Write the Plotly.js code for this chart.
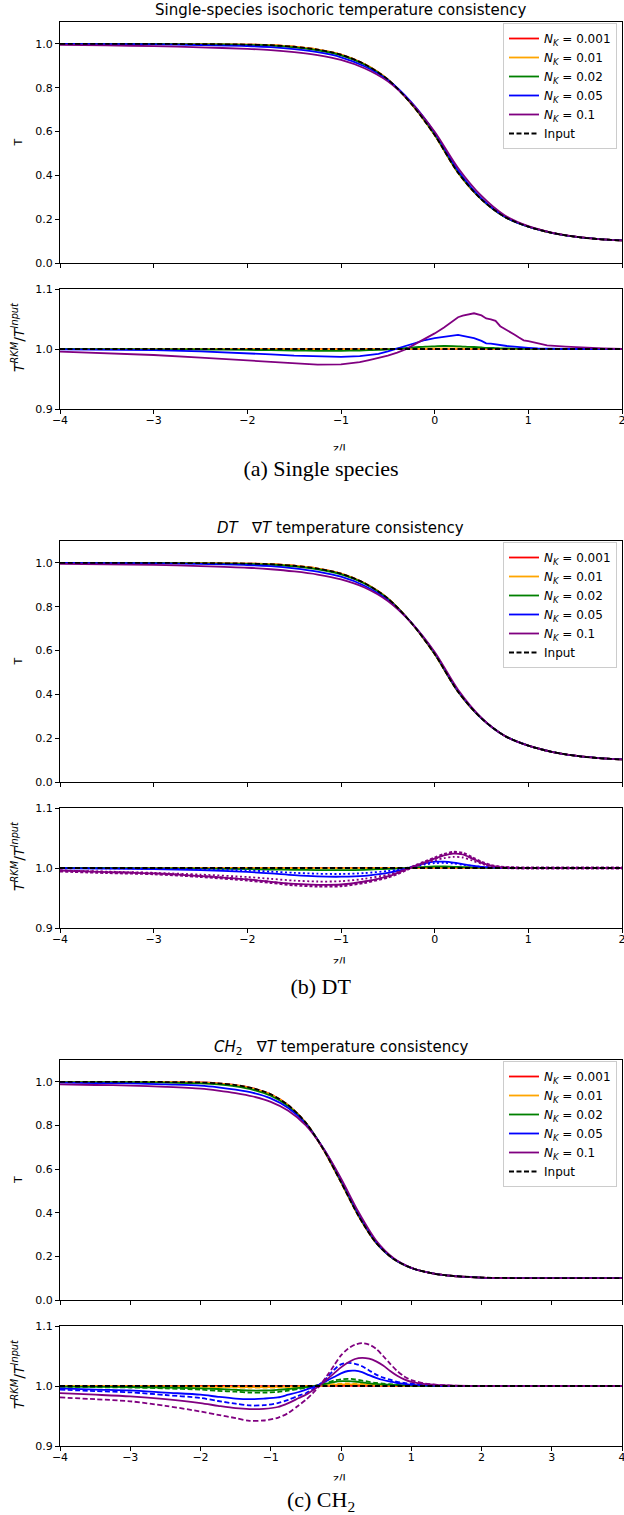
<!DOCTYPE html>
<html><head><meta charset="utf-8">
<script src="https://cdn.plot.ly/plotly-3.0.1.min.js"></script>
<style>html,body{margin:0;padding:0;background:#fff;}#chart{width:624px;height:1515px;}</style>
</head><body><div id="chart"></div>
<script>
// ---------- Panel (a): single species ----------
const xTopA = [-4,-3.5,-3,-2.5,-2,-1.75,-1.5,-1.25,-1,-0.75,-0.5,-0.25,0,0.25,0.5,0.75,1,1.25,1.5,1.75,2];
const inputTopA = [1.0,1.0,1.0,0.999,0.997,0.994,0.987,0.974,0.951,0.908,0.838,0.727,0.584,0.412,0.290,0.210,0.166,0.138,0.120,0.109,0.103];
const tA_001 = [1.0,1.0,1.0,0.999,0.997,0.994,0.987,0.974,0.951,0.908,0.838,0.727,0.584,0.412,0.290,0.210,0.166,0.138,0.120,0.109,0.103];
const tA_01  = [1.0,1.0,1.0,0.999,0.997,0.994,0.987,0.974,0.951,0.908,0.838,0.727,0.584,0.412,0.290,0.210,0.166,0.138,0.120,0.109,0.103];
const tA_02  = [1.0,1.0,0.9995,0.998,0.996,0.992,0.984,0.971,0.948,0.906,0.837,0.728,0.587,0.414,0.291,0.210,0.166,0.138,0.120,0.109,0.103];
const tA_05  = [0.9995,0.999,0.998,0.995,0.9905,0.985,0.976,0.962,0.939,0.898,0.835,0.734,0.595,0.422,0.294,0.211,0.166,0.138,0.120,0.109,0.103];
const tA_1   = [0.9955,0.993,0.990,0.9845,0.9775,0.972,0.963,0.949,0.927,0.889,0.829,0.731,0.599,0.434,0.306,0.217,0.168,0.139,0.1205,0.109,0.103];

const xRatA = [-4,-3.5,-3,-2.5,-2,-1.75,-1.5,-1.25,-1,-0.8,-0.7,-0.6,-0.5,-0.4,-0.3,-0.2,-0.1,0,0.1,0.2,0.25,0.3,0.35,0.42,0.5,0.55,0.6,0.65,0.7,0.77,0.85,0.9,0.95,1.0,1.1,1.2,1.4,1.6,1.8,2];
const rA_1  = [0.9955,0.993,0.990,0.9855,0.9805,0.978,0.9755,0.974,0.9745,0.978,0.9815,0.985,0.989,0.994,1.0,1.009,1.017,1.026,1.036,1.047,1.053,1.0555,1.057,1.0595,1.056,1.051,1.0495,1.047,1.038,1.032,1.024,1.019,1.0145,1.013,1.009,1.006,1.004,1.002,1.001,1.0];
const rA_05 = [0.9995,0.999,0.998,0.996,0.9935,0.991,0.989,0.9875,0.987,0.988,0.9895,0.992,0.996,1.001,1.006,1.011,1.015,1.018,1.0205,1.023,1.0235,1.022,1.020,1.018,1.0135,1.0095,1.009,1.0075,1.0067,1.005,1.004,1.003,1.0025,1.002,1.001,1.0005,1.0,1.0,1.0,1.0];
const rA_02 = [1.0,0.9998,0.9995,0.9992,0.9985,0.998,0.9975,0.997,0.997,0.9975,0.998,0.9985,0.9995,1.0005,1.002,1.003,1.004,1.0045,1.005,1.0048,1.0045,1.004,1.0037,1.0033,1.0025,1.002,1.0018,1.0015,1.0012,1.001,1.0007,1.0005,1.0004,1.0003,1.0002,1.0001,1.0,1.0,1.0,1.0];
const xRatA_c = [-4,-2,-1.25,-0.5,0,0.5,1,2];
const rA_01  = [1.0,0.9997,0.9993,0.9998,1.001,1.0007,1.0001,1.0];
const rA_001 = [1.0,1.0,0.9999,1.0,1.0001,1.0001,1.0,1.0];
const xInputRatA = [-4,2];
const inputRatA = [1.0,1.0];

// ---------- Panel (b): DT ----------
const xTopB = [-4,-3.5,-3,-2.5,-2,-1.75,-1.5,-1.25,-1,-0.75,-0.5,-0.25,0,0.25,0.5,0.75,1,1.25,1.5,1.75,2];
const inputTopB = [1.0,1.0,1.0,0.999,0.997,0.994,0.987,0.974,0.951,0.908,0.838,0.727,0.584,0.412,0.290,0.210,0.166,0.138,0.120,0.109,0.103];
const tB_001 = [1.0,1.0,1.0,0.999,0.997,0.994,0.987,0.974,0.951,0.908,0.838,0.727,0.584,0.412,0.290,0.210,0.166,0.138,0.120,0.109,0.103];
const tB_01  = [1.0,1.0,1.0,0.999,0.997,0.994,0.987,0.974,0.951,0.908,0.838,0.727,0.584,0.412,0.290,0.210,0.166,0.138,0.120,0.109,0.103];
const tB_02  = [1.0,1.0,0.9995,0.998,0.995,0.9915,0.984,0.971,0.948,0.906,0.837,0.727,0.585,0.413,0.290,0.210,0.166,0.138,0.120,0.109,0.103];
const tB_05  = [0.9995,0.999,0.998,0.9955,0.9905,0.985,0.975,0.960,0.937,0.896,0.831,0.728,0.590,0.415,0.291,0.210,0.166,0.138,0.120,0.109,0.103];
const tB_1   = [0.9955,0.993,0.991,0.9855,0.978,0.971,0.961,0.947,0.925,0.888,0.826,0.727,0.593,0.421,0.293,0.210,0.166,0.138,0.120,0.109,0.103];

const xRatB = [-4,-3.5,-3,-2.5,-2,-1.75,-1.5,-1.25,-1,-0.75,-0.5,-0.4,-0.3,-0.2,-0.1,0,0.1,0.2,0.3,0.4,0.5,0.6,0.7,0.8,1,1.5,2];
const rB_1     = [0.9955,0.993,0.991,0.9865,0.981,0.977,0.9735,0.972,0.9725,0.9775,0.986,0.9915,0.998,1.004,1.010,1.0155,1.021,1.024,1.0225,1.016,1.009,1.004,1.0015,1.0005,1.0,1.0,1.0];
const rB_1dash = [0.995,0.9925,0.9905,0.986,0.980,0.976,0.972,0.970,0.9705,0.976,0.985,0.9905,0.9975,1.004,1.0105,1.0165,1.0225,1.026,1.0245,1.017,1.0095,1.004,1.0015,1.0005,1.0,1.0,1.0];
const rB_1dot  = [0.996,0.994,0.992,0.989,0.985,0.982,0.979,0.9775,0.978,0.982,0.989,0.993,0.998,1.003,1.008,1.0125,1.0165,1.0185,1.0175,1.0125,1.007,1.003,1.001,1.0003,1.0,1.0,1.0];
const rB_05    = [0.9995,0.999,0.998,0.9965,0.9935,0.991,0.988,0.986,0.9855,0.987,0.992,0.995,0.999,1.004,1.008,1.0105,1.0105,1.009,1.0065,1.004,1.002,1.001,1.0003,1.0,1.0,1.0,1.0];
const rB_05dot = [0.9998,0.9995,0.999,0.998,0.996,0.994,0.992,0.9905,0.990,0.9915,0.995,0.997,1.0,1.003,1.006,1.008,1.0085,1.0075,1.0055,1.0035,1.002,1.001,1.0003,1.0,1.0,1.0,1.0];
const rB_02    = [1.0,1.0,0.9995,0.999,0.998,0.9975,0.997,0.9965,0.9965,0.997,0.9985,0.999,1.0,1.001,1.002,1.0025,1.0025,1.002,1.0015,1.001,1.0005,1.0002,1.0,1.0,1.0,1.0,1.0];
const xRatB_c = [-4,-2,-1.25,-0.5,0,0.5,1,2];
const rB_01  = [1.0,0.9997,0.9994,0.9998,1.0008,1.0005,1.0001,1.0];
const rB_001 = [1.0,1.0,0.9999,1.0,1.0001,1.0,1.0,1.0];
const xInputRatB = [-4,2];
const inputRatB = [1.0,1.0];

// ---------- Panel (c): CH2 ----------
const xTopC = [-4,-3.5,-3,-2.5,-2,-1.75,-1.5,-1.25,-1,-0.75,-0.5,-0.25,0,0.25,0.5,0.75,1,1.25,1.5,2,2.5,3,3.5,4];
const inputTopC = [1.0,1.0,1.0,0.999,0.997,0.993,0.985,0.970,0.943,0.893,0.812,0.690,0.540,0.385,0.262,0.188,0.147,0.125,0.113,0.103,0.1005,0.1,0.1,0.1];
const tC_001 = [1.0,1.0,1.0,0.999,0.997,0.993,0.985,0.970,0.943,0.893,0.812,0.690,0.540,0.385,0.262,0.188,0.147,0.125,0.113,0.103,0.1005,0.1,0.1,0.1];
const tC_01  = [1.0,1.0,1.0,0.9985,0.996,0.992,0.9835,0.968,0.941,0.892,0.812,0.690,0.541,0.386,0.262,0.188,0.147,0.125,0.113,0.103,0.1005,0.1,0.1,0.1];
const tC_02  = [0.9985,0.9983,0.998,0.9965,0.993,0.988,0.979,0.963,0.936,0.888,0.810,0.692,0.544,0.388,0.263,0.188,0.147,0.125,0.113,0.103,0.1005,0.1,0.1,0.1];
const tC_05  = [0.996,0.994,0.993,0.988,0.9826,0.975,0.964,0.949,0.924,0.880,0.807,0.694,0.551,0.394,0.2655,0.189,0.1473,0.125,0.113,0.103,0.1005,0.1,0.1,0.1];
const tC_1   = [0.988,0.9855,0.983,0.977,0.9686,0.960,0.9486,0.9327,0.908,0.8675,0.800,0.694,0.557,0.403,0.273,0.192,0.148,0.125,0.113,0.103,0.1005,0.1,0.1,0.1];

const xRatC = [-4,-3.5,-3,-2.5,-2,-1.75,-1.5,-1.3,-1.1,-0.9,-0.75,-0.6,-0.5,-0.4,-0.3,-0.2,-0.1,0,0.1,0.2,0.3,0.4,0.5,0.6,0.7,0.8,0.9,1.0,1.2,1.5,2,3,4];
const rC_1dash  = [0.981,0.978,0.9745,0.967,0.9575,0.952,0.9465,0.942,0.9425,0.947,0.955,0.968,0.977,0.988,1.001,1.017,1.034,1.051,1.062,1.069,1.0715,1.069,1.062,1.05,1.037,1.025,1.016,1.010,1.004,1.001,1.0,1.0,1.0];
const rC_1      = [0.988,0.9855,0.9827,0.978,0.9715,0.967,0.963,0.9615,0.962,0.965,0.9715,0.980,0.9855,0.993,1.001,1.011,1.021,1.031,1.039,1.045,1.047,1.0455,1.041,1.034,1.025,1.017,1.011,1.007,1.003,1.001,1.0,1.0,1.0];
const rC_05dash = [0.994,0.9915,0.9894,0.985,0.980,0.975,0.9705,0.9676,0.968,0.9715,0.977,0.984,0.988,0.995,1.003,1.014,1.027,1.036,1.0385,1.037,1.033,1.026,1.019,1.014,1.0105,1.007,1.005,1.004,1.002,1.0005,1.0,1.0,1.0];
const rC_05     = [0.996,0.994,0.9927,0.989,0.9855,0.982,0.979,0.978,0.979,0.981,0.9855,0.990,0.994,0.998,1.003,1.009,1.015,1.021,1.025,1.0255,1.023,1.018,1.0135,1.010,1.0075,1.005,1.0035,1.002,1.001,1.0,1.0,1.0,1.0];
const rC_02dash = [0.9985,0.998,0.9975,0.996,0.994,0.992,0.9905,0.989,0.989,0.990,0.9925,0.995,0.997,0.999,1.002,1.005,1.009,1.011,1.012,1.011,1.009,1.007,1.005,1.004,1.003,1.002,1.0015,1.001,1.0005,1.0,1.0,1.0,1.0];
const rC_02     = [0.999,0.9987,0.9983,0.9975,0.996,0.995,0.9935,0.9925,0.9925,0.9935,0.995,0.997,0.998,0.9995,1.002,1.004,1.0065,1.008,1.008,1.0075,1.006,1.0045,1.0035,1.0025,1.002,1.0015,1.001,1.0007,1.0003,1.0,1.0,1.0,1.0];
const rC_01dash = [1.0,0.9998,0.9995,0.999,0.9985,0.998,0.9975,0.9972,0.9972,0.9975,0.998,0.9988,0.9993,1.0,1.001,1.002,1.003,1.004,1.0042,1.004,1.0035,1.003,1.0022,1.0015,1.001,1.0007,1.0005,1.0003,1.0,1.0,1.0,1.0,1.0];
const rC_01     = [1.0,0.9999,0.9997,0.9994,0.999,0.9987,0.9984,0.9982,0.9982,0.9984,0.9987,0.9992,0.9996,1.0,1.0007,1.0014,1.002,1.0026,1.0028,1.0027,1.0024,1.002,1.0015,1.001,1.0007,1.0005,1.0003,1.0002,1.0,1.0,1.0,1.0,1.0];
const xRatC_c = [-4,-2,-1.25,-0.5,0,0.5,1,2,4];
const rC_001  = [1.0,1.0,0.9999,1.0,1.0002,1.0001,1.0,1.0,1.0];
const xInputRatC = [-4,4];
const inputRatC = [1.0,1.0];

// ---------- labels ----------
const seriesNames = ['<i>N</i><sub><i>K</i></sub> = 0.001','<i>N</i><sub><i>K</i></sub> = 0.01','<i>N</i><sub><i>K</i></sub> = 0.02','<i>N</i><sub><i>K</i></sub> = 0.05','<i>N</i><sub><i>K</i></sub> = 0.1','Input'];
const seriesColors = ['#ff0000','#ffa500','#008000','#0000ff','#800080','#000000'];
const panelTitles = ['Single-species isochoric temperature consistency',
  '<i>DT</i>\u00a0\u00a0\u00a0\u2207<i>T</i> temperature consistency',
  '<i>CH</i><sub>2</sub>\u00a0\u00a0\u00a0\u2207<i>T</i> temperature consistency'];
const captions = ['(a) Single species','(b) DT','(c) CH<sub>2</sub>'];
const xTicksAB = [-4,-3,-2,-1,0,1,2];
const xTicksC = [-4,-3,-2,-1,0,1,2,3,4];

// ---------- build ----------
const H = 1515, W = 624;
const py = p => 1 - p / H;
const traces = [];
function ln(x, y, ci, xa, ya, extra) {
  const t = {type:'scatter', mode:'lines', x:x, y:y, xaxis:xa, yaxis:ya,
    line:{color:seriesColors[ci], width:1.8, shape:'spline', smoothing:0.8},
    hoverinfo:'skip', showlegend:false};
  if (extra) {
    if (extra.line) { Object.assign(t.line, extra.line); }
    for (const k in extra) { if (k !== 'line') t[k] = extra[k]; }
  }
  return t;
}
const DASH = '5px,2.5px';

function topTraces(x, arrs, input, xa, ya, leg) {
  arrs.forEach((a, i) => traces.push(ln(x, a, i, xa, ya, {name:seriesNames[i], showlegend:true, legend:leg})));
  traces.push(ln(x, input, 5, xa, ya, {name:seriesNames[5], showlegend:true, legend:leg, line:{dash:DASH}}));
}
// panel a
topTraces(xTopA, [tA_001,tA_01,tA_02,tA_05,tA_1], inputTopA, 'x', 'y', 'legend');
traces.push(ln(xRatA_c, rA_001, 0, 'x2', 'y2'));
traces.push(ln(xRatA_c, rA_01, 1, 'x2', 'y2'));
traces.push(ln(xRatA, rA_02, 2, 'x2', 'y2'));
traces.push(ln(xRatA, rA_05, 3, 'x2', 'y2', {line:{shape:'linear'}}));
traces.push(ln(xRatA, rA_1, 4, 'x2', 'y2', {line:{shape:'linear'}}));
traces.push(ln(xInputRatA, inputRatA, 5, 'x2', 'y2', {line:{dash:DASH, shape:'linear'}}));
// panel b
topTraces(xTopB, [tB_001,tB_01,tB_02,tB_05,tB_1], inputTopB, 'x3', 'y3', 'legend2');
traces.push(ln(xRatB_c, rB_001, 0, 'x4', 'y4'));
traces.push(ln(xRatB_c, rB_01, 1, 'x4', 'y4'));
traces.push(ln(xRatB, rB_02, 2, 'x4', 'y4'));
traces.push(ln(xRatB, rB_05, 3, 'x4', 'y4'));
traces.push(ln(xRatB, rB_05dot, 3, 'x4', 'y4', {line:{dash:'2px,2.5px'}}));
traces.push(ln(xRatB, rB_1, 4, 'x4', 'y4'));
traces.push(ln(xRatB, rB_1dot, 4, 'x4', 'y4', {line:{dash:'2px,2.5px'}}));
traces.push(ln(xRatB, rB_1dash, 4, 'x4', 'y4', {line:{dash:'3px,2px', width:3}}));
traces.push(ln(xInputRatB, inputRatB, 5, 'x4', 'y4', {line:{dash:DASH, shape:'linear'}}));
// panel c
topTraces(xTopC, [tC_001,tC_01,tC_02,tC_05,tC_1], inputTopC, 'x5', 'y5', 'legend3');
traces.push(ln(xRatC_c, rC_001, 0, 'x6', 'y6'));
traces.push(ln(xRatC, rC_01, 1, 'x6', 'y6'));
traces.push(ln(xRatC, rC_01dash, 1, 'x6', 'y6', {line:{dash:DASH}}));
traces.push(ln(xRatC, rC_02, 2, 'x6', 'y6'));
traces.push(ln(xRatC, rC_02dash, 2, 'x6', 'y6', {line:{dash:DASH}}));
traces.push(ln(xRatC, rC_05, 3, 'x6', 'y6'));
traces.push(ln(xRatC, rC_05dash, 3, 'x6', 'y6', {line:{dash:DASH}}));
traces.push(ln(xRatC, rC_1, 4, 'x6', 'y6'));
traces.push(ln(xRatC, rC_1dash, 4, 'x6', 'y6', {line:{dash:DASH}}));
traces.push(ln(xInputRatC, inputRatC, 5, 'x6', 'y6', {line:{dash:DASH, shape:'linear'}}));

const tickFont = {family:'DejaVu Sans, sans-serif', size:11, color:'#000'};
const axBase = {showline:true, mirror:true, linecolor:'#000', linewidth:1, ticks:'outside', ticklen:4,
  tickwidth:1, tickcolor:'#000', showgrid:false, zeroline:false, tickfont:tickFont, fixedrange:true,
  ticklabeloverflow:'allow'};
const xDom = [60 / W, 622 / W];
function xAx(range, vals, anchor, labels) {
  return Object.assign({}, axBase, {domain:xDom, range:range, tickvals:vals, anchor:anchor, showticklabels:labels, ticklabelstandoff:-3});
}
function yAx(range, vals, top, bot, anchor) {
  return Object.assign({}, axBase, {domain:[py(bot), py(top)], range:range, tickvals:vals, tickformat:'.1f', anchor:anchor});
}
const yTopVals = [0,0.2,0.4,0.6,0.8,1.0];
const yRatVals = [0.9,1.0,1.1];
const panels = [
  {top:[22,263], rat:[289,409], title:10, zl:448, capTop:450, capH:34, ticks:xTicksAB, range:[-4,2]},
  {top:[541,782], rat:[808,928], title:528, zl:961, capTop:963, capH:44, ticks:xTicksAB, range:[-4,2]},
  {top:[1060,1300], rat:[1326,1446], title:1047, zl:1478, capTop:1480, capH:40, ticks:xTicksC, range:[-4,4]}
];

const layout = {width:W, height:H, margin:{l:0,r:0,t:0,b:0}, paper_bgcolor:'#fff', plot_bgcolor:'#fff',
  showlegend:true, font:{family:'DejaVu Sans, sans-serif', color:'#000'}, annotations:[]};
const legBase = {xanchor:'right', yanchor:'top', bgcolor:'rgba(255,255,255,0.85)', bordercolor:'#cccccc', borderwidth:1,
  font:{family:'DejaVu Sans, sans-serif', size:12, color:'#000'}, tracegroupgap:0};
const legKeys = ['legend','legend2','legend3'];
panels.forEach((p, i) => {
  const n = i * 2 + 1, m = i * 2 + 2;
  layout['xaxis' + (n === 1 ? '' : n)] = xAx(p.range, p.ticks, 'y' + (n === 1 ? '' : n), false);
  layout['yaxis' + (n === 1 ? '' : n)] = yAx([0,1.1], yTopVals, p.top[0], p.top[1], 'x' + (n === 1 ? '' : n));
  layout['xaxis' + m] = xAx(p.range, p.ticks, 'y' + m, true);
  layout['yaxis' + m] = yAx([0.9,1.1], yRatVals, p.rat[0], p.rat[1], 'x' + m);
  layout[legKeys[i]] = Object.assign({}, legBase, {x:617 / W, y:py(p.top[0] + 1)});
});
const ann = layout.annotations;
panels.forEach((p, i) => {
  ann.push({xref:'paper', yref:'paper', x:341 / W, y:py(p.title), xanchor:'center', yanchor:'middle', showarrow:false,
    text:panelTitles[i], font:{family:'DejaVu Sans, sans-serif', size:15, color:'#000'}});
  ann.push({xref:'paper', yref:'paper', x:18 / W, y:py((p.top[0] + p.top[1]) / 2), xanchor:'center', yanchor:'middle',
    showarrow:false, textangle:-90, text:'T', font:{family:'DejaVu Sans, sans-serif', size:11, color:'#000'}});
  ann.push({xref:'paper', yref:'paper', x:18 / W, y:py((p.rat[0] + p.rat[1]) / 2 - 12), xanchor:'center', yanchor:'middle',
    showarrow:false, textangle:-90, text:'<i>T</i><sup><i>RKM</i></sup>/<i>T</i><sup><i>Input</i></sup>',
    font:{family:'DejaVu Sans, sans-serif', size:14, color:'#000'}});
  ann.push({xref:'paper', yref:'paper', x:341 / W, y:py(p.zl), xanchor:'center', yanchor:'middle', showarrow:false,
    text:'z/L', font:{family:'DejaVu Sans, sans-serif', size:11, color:'#000'}});
});
panels.forEach((p, i) => {
  ann.push({xref:'paper', yref:'paper', x:321 / W, y:py(p.capTop), xanchor:'center', yanchor:'top', showarrow:false,
    width:600, height:p.capH, bgcolor:'#ffffff', borderpad:0, valign:'middle',
    text:captions[i], font:{family:'Liberation Serif, Times New Roman, serif', size:22, color:'#000'}});
});

Plotly.newPlot('chart', traces, layout, {staticPlot:true, displayModeBar:false});
</script></body></html>
